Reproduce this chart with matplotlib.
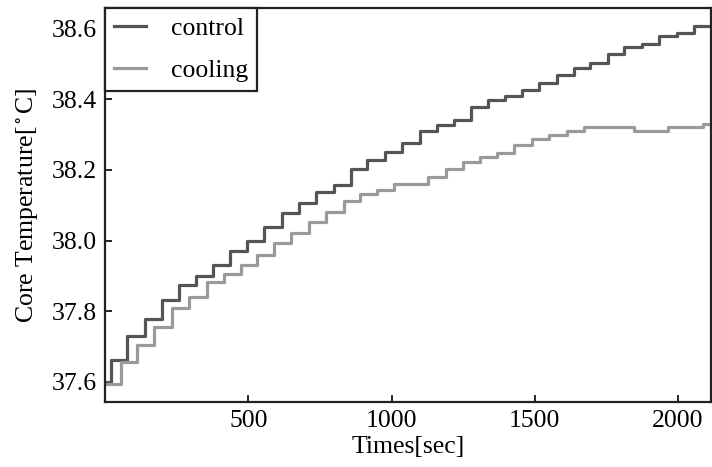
import numpy as np
import matplotlib
matplotlib.use("Agg")
from matplotlib import pyplot as plt

# step times (sec) and core temperature readings
control_t = [0, 20, 78, 138, 198, 258, 318, 378, 437, 497, 556, 616, 676, 738,
             798, 857, 916, 976, 1037, 1098, 1158, 1217, 1276, 1335, 1395, 1455,
             1516, 1577, 1637, 1694, 1754, 1813, 1873, 1934, 1995, 2056, 2120]
control_temp = [37.600, 37.663, 37.729, 37.779, 37.831, 37.874, 37.899, 37.931,
                37.969, 37.998, 38.038, 38.078, 38.107, 38.137, 38.158, 38.201,
                38.229, 38.251, 38.277, 38.309, 38.328, 38.340, 38.378, 38.397,
                38.408, 38.425, 38.446, 38.468, 38.487, 38.501, 38.529, 38.548,
                38.557, 38.579, 38.587, 38.607, 38.607]

cooling_t = [0, 55, 111, 171, 233, 293, 355, 415, 473, 531, 589, 650, 711, 773,
             833, 889, 949, 1007, 1069, 1129, 1191, 1249, 1309, 1368, 1429, 1490,
             1551, 1611, 1673, 1733, 1793, 1847, 1907, 1965, 2027, 2087, 2120]
cooling_temp = [37.595, 37.655, 37.704, 37.754, 37.809, 37.840, 37.882, 37.905,
                37.932, 37.960, 37.992, 38.022, 38.053, 38.081, 38.111, 38.133,
                38.142, 38.159, 38.159, 38.180, 38.201, 38.221, 38.236, 38.249,
                38.270, 38.287, 38.298, 38.310, 38.321, 38.321, 38.321, 38.310,
                38.310, 38.321, 38.321, 38.329, 38.329]

xticks = [500, 1000, 1500, 2000]
yticks = [37.6, 37.8, 38.0, 38.2, 38.4, 38.6]

plt.rcParams['font.family'] = ['Liberation Serif', 'DejaVu Serif']
plt.rcParams['mathtext.fontset'] = 'stix'

fig = plt.figure(figsize=(7.12, 4.67), dpi=100)
ax = fig.add_axes([0.1475, 0.1392, 0.8511, 0.8437])

ax.step(control_t, control_temp, where='post', color='#555555', lw=2.3, label='control')
ax.step(cooling_t, cooling_temp, where='post', color='#9a9a9a', lw=2.3, label='cooling')

ax.set_xlim(0, 2115)
ax.set_ylim(37.543, 38.658)
ax.set_xticks(xticks)
ax.set_yticks(yticks)
ax.set_yticklabels([f'{v:.1f}' for v in yticks])
ax.tick_params(direction='in', length=5, width=1.2, labelsize=18.5, pad=6)
for s in ax.spines.values():
    s.set_linewidth(1.6)
    s.set_color('#222222')

ax.set_xlabel('Times[sec]', fontsize=18.5, labelpad=3)
ax.set_ylabel(r'Core Temperature[$^\circ$C]', fontsize=18.5, labelpad=8)

leg = ax.legend(loc='upper left', fontsize=18.5, fancybox=False, framealpha=1,
                edgecolor='#222222', borderaxespad=0, handlelength=1.25,
                handletextpad=0.95, labelspacing=0.75, borderpad=0.35)
leg.get_frame().set_linewidth(1.6)

fig.savefig('out.png', dpi=100)
